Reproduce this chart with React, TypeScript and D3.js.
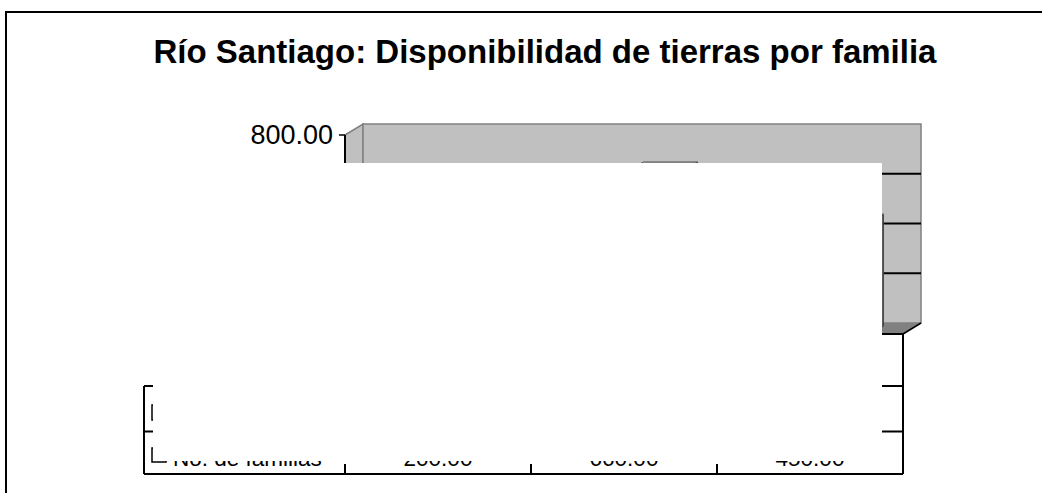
import React from "react";
import * as d3 from "d3";

// ---- data (most of the chart is hidden under a white block) ----
const title = "Río Santiago: Disponibilidad de tierras por familia";
const categories = ["c1", "c2", "c3"]; // category names are not visible in the reference
const seriesKeys = ["s1", "s2"]; // row 1 series is unreadable; row 2 is "No. de familias"
const seriesName = "No. de familias";
const familias = [200, 660, 450];
const valueTicks = [0, 200, 400, 600, 800];

const W = 1042;
const H = 493;
const FONT = "Arial, 'Liberation Sans', Helvetica, sans-serif";

// layout
const PX0 = 345;
const PX1 = 903;
const PY0 = 334;
const PY1 = 135;
const DX = 18;
const DY = -11;
const BAR_D0 = 0.29;
const BAR_D1 = 0.71;
const TABLE_LEFT = 144;
const ROW_LINES = [386, 431.5];
const TABLE_BOTTOM = 474;
const COVER = { x: 153, y: 163, w: 729, h: 298 };

export default function App() {
  const x = d3.scaleBand<string>().domain(categories).range([PX0, PX1]);
  const inner = d3
    .scaleBand<string>()
    .domain(seriesKeys)
    .range([45.6, 153.6]);
  const y = d3.scaleLinear().domain([0, 800]).range([PY0, PY1]);
  const fmt = d3.format(".2f");

  const backL = PX0 + DX;
  const backR = PX1 + DX;
  const poly = (pts: number[][]) => pts.map((p) => p.join(",")).join(" ");

  const bars = familias.map((v, i) => {
    const bx0 = (x(categories[i]) as number) + (inner("s2") as number);
    const bx1 = bx0 + inner.bandwidth();
    const yt = y(v);
    const f = (px: number, py: number, d: number) => [px + DX * d, py + DY * d];
    const front = [f(bx0, yt, BAR_D0), f(bx1, yt, BAR_D0), f(bx1, PY0, BAR_D0), f(bx0, PY0, BAR_D0)];
    const top = [f(bx0, yt, BAR_D0), f(bx1, yt, BAR_D0), f(bx1, yt, BAR_D1), f(bx0, yt, BAR_D1)];
    const side = [f(bx1, yt, BAR_D0), f(bx1, yt, BAR_D1), f(bx1, PY0, BAR_D1), f(bx1, PY0, BAR_D0)];
    return { front, top, side, key: categories[i] };
  });

  const ticks = valueTicks;

  return (
    <svg
      width={W}
      height={H}
      style={{ position: "absolute", left: 0, top: 0, background: "#fff" }}
      fontFamily={FONT}
    >
      {/* chart area frame */}
      <rect x={6} y={12} width={1100} height={600} fill="#fff" stroke="#000" strokeWidth={2} />

      {/* side wall */}
      <polygon
        points={poly([[PX0, y(800)], [backL, y(800) + DY], [backL, PY0 + DY], [PX0, PY0]])}
        fill="#c0c0c0"
        stroke="#808080"
        strokeWidth={1.5}
      />
      {/* back wall */}
      <rect
        x={backL}
        y={y(800) + DY}
        width={backR - backL}
        height={PY0 - y(800)}
        fill="#c0c0c0"
        stroke="#808080"
        strokeWidth={1.5}
      />
      {/* gridlines */}
      {ticks
        .filter((t) => t > 0 && t < 800)
        .map((t) => (
          <g key={t}>
            <line x1={backL} x2={backR} y1={y(t) + DY} y2={y(t) + DY} stroke="#000" strokeWidth={2} />
            <line x1={PX0} x2={backL} y1={y(t)} y2={y(t) + DY} stroke="#000" strokeWidth={2} />
          </g>
        ))}
      {/* floor */}
      <polygon
        points={poly([[PX0, PY0], [backL, PY0 + DY], [backR, PY0 + DY], [PX1, PY0]])}
        fill="#808080"
        stroke="none"
      />
      <line x1={PX1} y1={PY0} x2={backR} y2={PY0 + DY} stroke="#000" strokeWidth={1.5} />

      {/* bars: No. de familias */}
      {bars.map((b) => (
        <g key={b.key}>
          <polygon points={poly(b.side)} fill="#606060" stroke="#404040" strokeWidth={1} />
          <polygon points={poly(b.front)} fill="#969696" stroke="#404040" strokeWidth={1} />
          <polygon points={poly(b.top)} fill="#b4b4b4" stroke="#505050" strokeWidth={1} />
        </g>
      ))}

      {/* value axis */}
      <line x1={PX0} x2={PX0} y1={y(800)} y2={PY0} stroke="#000" strokeWidth={2} />
      {ticks.map((t) => (
        <line key={t} x1={PX0 - 6} x2={PX0} y1={y(t)} y2={y(t)} stroke="#000" strokeWidth={1.5} />
      ))}

      {/* data table */}
      <g stroke="#000" strokeWidth={2}>
        <line x1={PX0} x2={PX1} y1={PY0} y2={PY0} />
        <line x1={PX1} x2={PX1} y1={PY0} y2={TABLE_BOTTOM} />
        <line x1={TABLE_LEFT} x2={TABLE_LEFT} y1={ROW_LINES[0]} y2={TABLE_BOTTOM} />
        {ROW_LINES.map((ry) => (
          <line key={ry} x1={TABLE_LEFT} x2={PX1} y1={ry} y2={ry} />
        ))}
        <line x1={TABLE_LEFT} x2={PX1} y1={TABLE_BOTTOM} y2={TABLE_BOTTOM} />
        {categories.map((c) => (
          <line
            key={c}
            x1={x(c) as number}
            x2={x(c) as number}
            y1={TABLE_BOTTOM - 10}
            y2={TABLE_BOTTOM}
          />
        ))}
      </g>
      {/* legend keys */}
      <rect x={152} y={405} width={14} height={15} fill="#fff" stroke="#000" strokeWidth={1.5} />
      <rect x={152} y={448} width={14} height={14} fill="#fff" stroke="#000" strokeWidth={1.5} />
      <text x={173} y={466} fontSize={22.5} fill="#000">
        {seriesName}
      </text>
      {familias.map((v, i) => (
        <text
          key={i}
          x={(x(categories[i]) as number) + x.bandwidth() / 2}
          y={466}
          fontSize={22.5}
          textAnchor="middle"
          fill="#000"
        >
          {fmt(v)}
        </text>
      ))}

      {/* white block that hides most of the chart in the reference */}
      <rect x={COVER.x} y={COVER.y} width={COVER.w} height={COVER.h} fill="#fff" />

      {/* visible value-axis label(s) */}
      {ticks
        .filter((t) => y(t) < COVER.y)
        .map((t) => (
          <text key={t} x={333} y={y(t) + 9} fontSize={27} textAnchor="end" fill="#000">
            {fmt(t)}
          </text>
        ))}

      {/* title */}
      <text x={545} y={63} fontSize={33} fontWeight="bold" textAnchor="middle" fill="#000">
        {title}
      </text>
    </svg>
  );
}
